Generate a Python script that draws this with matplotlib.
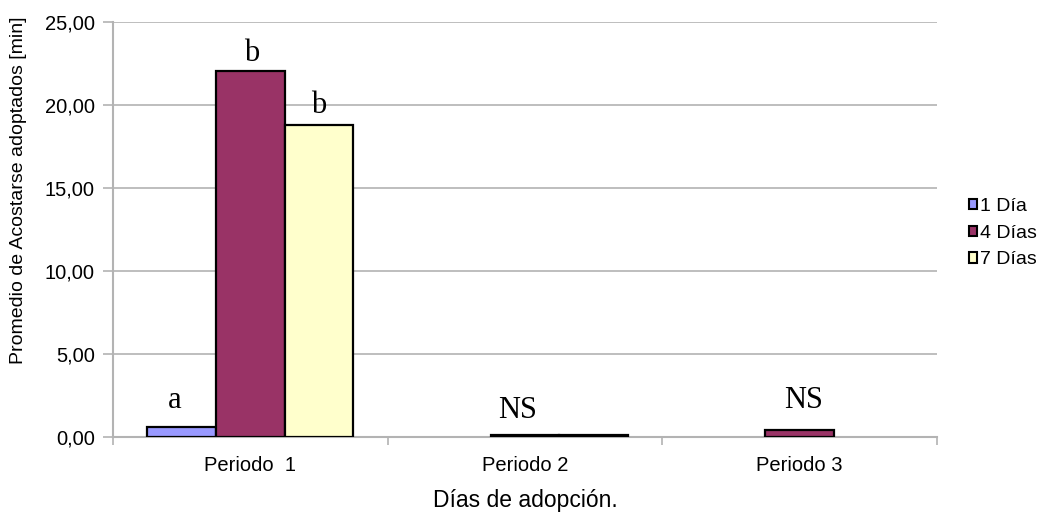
import matplotlib
matplotlib.use("Agg")
import matplotlib.pyplot as plt
import numpy as np
from matplotlib.ticker import FuncFormatter, FixedLocator

categories = ["Periodo  1", "Periodo 2", "Periodo 3"]
series_names = ["1 Día", "4 Días", "7 Días"]
dia1 = [0.60, 0.0, 0.0]
dia4 = [22.05, 0.12, 0.45]
dia7 = [18.80, 0.12, 0.0]
colors = ["#9999FF", "#993366", "#FFFFCC"]
letters = ["a", "b", "b"]
ns_labels = ["NS", "NS"]

fig = plt.figure(figsize=(10.42, 5.15), dpi=100)
ax = fig.add_axes([113/1042, 1-437/515, (937-113)/1042, (437-22)/515])

x = np.arange(len(categories))
w = 1/4
for i, (vals, name, c) in enumerate(zip([dia1, dia4, dia7], series_names, colors)):
    lws = [1.6 if v > 0 else 0 for v in vals]
    ax.bar(x + (i-1)*w, vals, width=w, color=c, edgecolor="black", linewidth=lws,
           label=name, zorder=3)

ax.set_xlim(-0.5, 2.5)
ax.set_ylim(0, 25)
ax.yaxis.set_major_locator(FixedLocator([0, 5, 10, 15, 20, 25]))
ax.yaxis.set_major_formatter(FuncFormatter(lambda v, p: f"{v:.2f}".replace(".", ",")))
ax.grid(axis="y", color="#b3b3b3", linewidth=1.2, zorder=0)
ax.set_axisbelow(True)

ax.set_xticks(x)
ax.set_xticklabels(categories)
ax.tick_params(axis="x", length=0, pad=14, labelsize=14.5)
ax.set_xticks([-0.5, 0.5, 1.5, 2.5], minor=True)
ax.tick_params(axis="x", which="minor", length=6, color="#b3b3b3", width=1.2)
ax.tick_params(axis="y", length=7, color="#b3b3b3", width=1.2, labelsize=14.5, pad=6)

for s in ["top", "right"]:
    ax.spines[s].set_visible(False)
for s in ["left", "bottom"]:
    ax.spines[s].set_color("#b3b3b3")
    ax.spines[s].set_linewidth(1.5)

for lab in ax.get_xticklabels() + ax.get_yticklabels():
    lab.set_family("Liberation Sans")

ax.set_ylabel("Promedio de Acostarse adoptados [min]", family="Liberation Sans",
              fontsize=14, va="center")
ax.yaxis.set_label_coords(-0.115, 0.595)
ax.set_xlabel("Días de adopción.", family="Liberation Sans", fontsize=16.5, labelpad=10)

# significance letters
serif = dict(family="Liberation Serif", fontsize=22, ha="center", va="baseline")
letter_pos = [(-0.274, 1.75), (0.006, 22.65), (0.25, 19.5)]
for (lx, ly), let in zip(letter_pos, letters):
    ax.text(lx, ly, let, **serif)
ax.text(0.974, 1.14, ns_labels[0], **serif)
ax.text(2.015, 1.75, ns_labels[1], **serif)

leg = fig.legend(loc="upper left", bbox_to_anchor=(969/1042, 1-198/515), frameon=False,
                 prop={"family": "Liberation Sans", "size": 14},
                 handlelength=0.42, handleheight=0.42, handletextpad=0.12,
                 labelspacing=0.5, borderpad=0, borderaxespad=0)
for h in leg.legend_handles:
    h.set_linewidth(1.5)

fig.savefig("out.png", dpi=100)
